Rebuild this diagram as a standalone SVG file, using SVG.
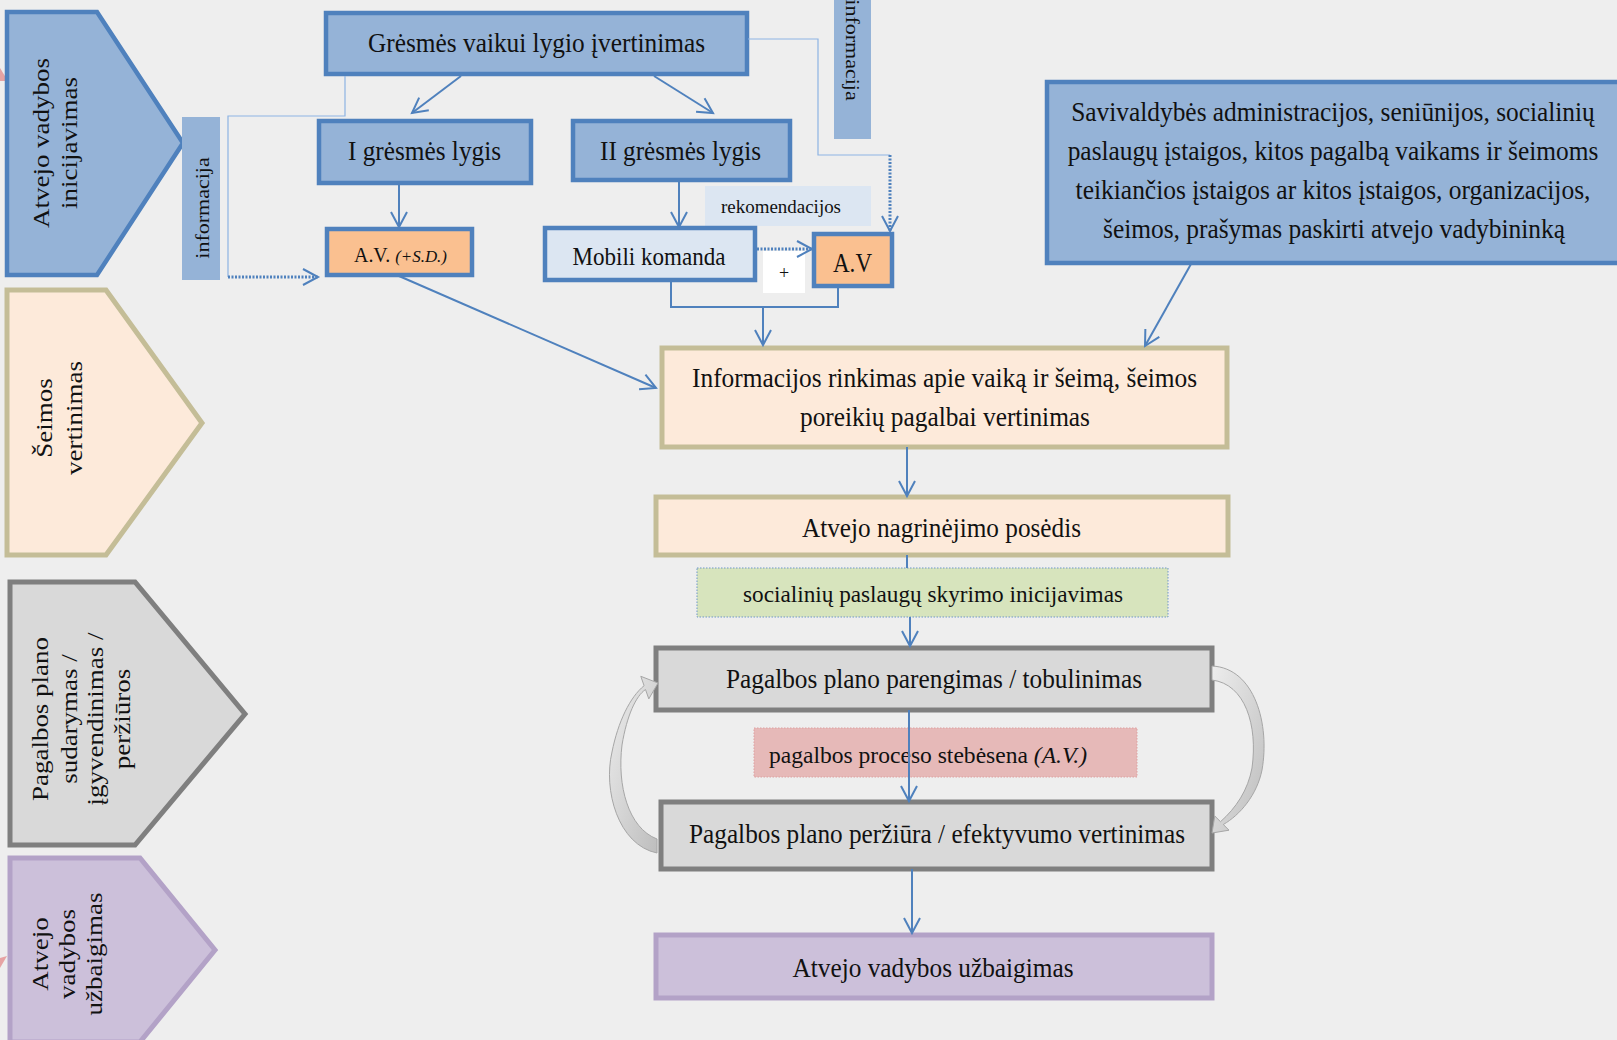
<svg xmlns="http://www.w3.org/2000/svg" width="1617" height="1040" viewBox="0 0 1617 1040">
<style>
text{font-family:"Liberation Serif","Times New Roman",serif;fill:#111}
.c{text-anchor:middle}
.f28{font-size:28px}
.rot{font-size:27px;text-anchor:middle}
.blue{fill:#95B3D7;stroke:#4F81BD;stroke-width:4.5}
.lb{fill:#DCE6F2;stroke:#4F81BD;stroke-width:4.5}
.or{fill:#FAC090;stroke:#4F81BD;stroke-width:4.5}
.peach{fill:#FDEADA;stroke:#C4BD97;stroke-width:5}
.gray{fill:#D9D9D9;stroke:#7F7F7F;stroke-width:5}
.purp{fill:#CCC0DA;stroke:#B3A2C7;stroke-width:5}
.con{fill:none;stroke:#4F81BD;stroke-width:2}
.thin{fill:none;stroke:#8EB4E3;stroke-width:1.2}
.dot{fill:none;stroke:#4F81BD;stroke-width:3;stroke-dasharray:2 1.5}
.curve{fill:url(#cg);stroke:#A6A6A6;stroke-width:1}
</style>
<defs>
<marker id="ah" markerUnits="userSpaceOnUse" markerWidth="20" markerHeight="20" viewBox="-17 -10 20 20" refX="0" refY="0" orient="auto">
<path d="M-15,-8 L0,0 L-15,8" fill="none" stroke="#4F81BD" stroke-width="2"/>
</marker>
<linearGradient id="cg" x1="0" y1="0" x2="1" y2="1">
<stop offset="0" stop-color="#EDEDED"/>
<stop offset="1" stop-color="#BDBDBD"/>
</linearGradient>
</defs>
<rect x="0" y="0" width="1617" height="1040" fill="#EEEEEE"/>
<polygon points="0,68 8,81 0,81" fill="#E6A3A3"/>
<polygon points="0,958 7,956 0,968" fill="#E6A3A3"/>

<g id="phase1">
<polygon class="blue" points="7,12 97,12 183,143 97,275 7,275"/>
<text class="rot" transform="translate(49,143) scale(0.88,1) rotate(-90)">Atvejo vadybos</text>
<text class="rot" transform="translate(77,143) scale(0.88,1) rotate(-90)">inicijavimas</text>
</g>
<g id="phase2">
<polygon class="peach" points="7,290 106,290 202,423 106,555 7,555"/>
<text class="rot" transform="translate(52,418) scale(0.88,1) rotate(-90)">Šeimos</text>
<text class="rot" transform="translate(82,418) scale(0.88,1) rotate(-90)">vertinimas</text>
</g>
<g id="phase3">
<polygon class="gray" points="10,582 135,582 245,714 135,845 10,845"/>
<text class="rot" transform="translate(48,719) scale(0.88,1) rotate(-90)">Pagalbos plano</text>
<text class="rot" transform="translate(77,719) scale(0.88,1) rotate(-90)">sudarymas /</text>
<text class="rot" transform="translate(103,719) scale(0.88,1) rotate(-90)">įgyvendinimas /</text>
<text class="rot" transform="translate(130,719) scale(0.88,1) rotate(-90)">peržiūros</text>
</g>
<g id="phase4">
<polygon class="purp" points="10,858 140,858 215,950 140,1042 10,1042"/>
<text class="rot" transform="translate(48,954) scale(0.88,1) rotate(-90)">Atvejo</text>
<text class="rot" transform="translate(75,954) scale(0.88,1) rotate(-90)">vadybos</text>
<text class="rot" transform="translate(102,954) scale(0.88,1) rotate(-90)">užbaigimas</text>
</g>

<g id="info-left">
<rect x="182" y="117" width="38" height="163" fill="#95B3D7"/>
<text class="c" font-size="22" transform="translate(209,208) scale(0.88,1) rotate(-90)">informacija</text>
</g>
<g id="info-right">
<rect x="834" y="-2" width="37" height="141" fill="#95B3D7"/>
<text class="c" font-size="22" transform="translate(846,50) scale(0.88,1) rotate(90)">informacija</text>
</g>

<g id="gresmes">
<rect class="blue" x="326" y="13" width="421" height="61"/>
<text class="c f28" x="536.5" y="52" textLength="337" lengthAdjust="spacingAndGlyphs">Grėsmės vaikui lygio įvertinimas</text>
</g>
<g id="lygis1">
<rect class="blue" x="319" y="121" width="212" height="62"/>
<text class="c f28" x="424.5" y="160" textLength="153" lengthAdjust="spacingAndGlyphs">I grėsmės lygis</text>
</g>
<g id="lygis2">
<rect class="blue" x="573" y="121" width="217" height="59"/>
<text class="c f28" x="680.5" y="160" textLength="161" lengthAdjust="spacingAndGlyphs">II grėsmės lygis</text>
</g>
<g id="av-sd">
<rect class="or" x="327" y="229" width="145" height="46"/>
<text x="354" y="262" font-size="20" textLength="93" lengthAdjust="spacingAndGlyphs">A.V. <tspan font-style="italic" font-size="17">(+S.D.)</tspan></text>
</g>
<g id="rekomendacijos">
<rect x="705" y="186" width="166" height="40" fill="#DCE6F2"/>
<text class="c" x="781" y="213" font-size="19" textLength="120" lengthAdjust="spacingAndGlyphs">rekomendacijos</text>
</g>
<g id="mobili">
<rect class="lb" x="545" y="228" width="210" height="52"/>
<text class="c" x="649" y="265" font-size="25" textLength="153" lengthAdjust="spacingAndGlyphs">Mobili komanda</text>
</g>
<g id="plus">
<rect x="763" y="251" width="42" height="42" fill="#FFFFFF"/>
<text class="c" x="784" y="279" font-size="18">+</text>
</g>
<g id="av">
<rect class="or" x="814" y="234" width="78" height="52"/>
<text class="c" x="852.5" y="272" font-size="27" textLength="39" lengthAdjust="spacingAndGlyphs">A.V</text>
</g>
<g id="savivaldybes">
<rect class="blue" x="1047" y="82" width="580" height="181"/>
<text class="c f28" transform="translate(1333,121) scale(0.88,1)" textLength="595" lengthAdjust="spacingAndGlyphs">Savivaldybės administracijos, seniūnijos, socialinių</text>
<text class="c f28" transform="translate(1333,160) scale(0.88,1)" textLength="603" lengthAdjust="spacingAndGlyphs">paslaugų įstaigos, kitos pagalbą vaikams ir šeimoms</text>
<text class="c f28" transform="translate(1333,199) scale(0.88,1)" textLength="585" lengthAdjust="spacingAndGlyphs">teikiančios įstaigos ar kitos įstaigos, organizacijos,</text>
<text class="c f28" transform="translate(1334,238) scale(0.88,1)" textLength="525" lengthAdjust="spacingAndGlyphs">šeimos, prašymas paskirti atvejo vadybininką</text>
</g>
<g id="informacijos-rinkimas">
<rect class="peach" x="662" y="348" width="565" height="99"/>
<text class="c f28" x="944.5" y="387" textLength="505" lengthAdjust="spacingAndGlyphs">Informacijos rinkimas apie vaiką ir šeimą, šeimos</text>
<text class="c f28" x="945" y="426" textLength="290" lengthAdjust="spacingAndGlyphs">poreikių pagalbai vertinimas</text>
</g>
<g id="posedis">
<rect class="peach" x="656" y="497" width="572" height="58"/>
<text class="c f28" x="941.5" y="537" textLength="279" lengthAdjust="spacingAndGlyphs">Atvejo nagrinėjimo posėdis</text>
</g>
<g id="socialiniu">
<rect x="697" y="568" width="471" height="49" fill="#D7E4BD" stroke="#6F97C8" stroke-width="1" stroke-dasharray="1.5 1.5"/>
<text class="c" x="933" y="602" font-size="24" textLength="380" lengthAdjust="spacingAndGlyphs">socialinių paslaugų skyrimo inicijavimas</text>
</g>
<g id="parengimas">
<rect class="gray" x="656" y="648" width="556" height="62"/>
<text class="c f28" x="934" y="688" textLength="416" lengthAdjust="spacingAndGlyphs">Pagalbos plano parengimas / tobulinimas</text>
</g>
<g id="stebesena">
<rect x="754" y="728" width="383" height="49" fill="#E6B9B8" stroke="#DDA0A0" stroke-width="1" stroke-dasharray="1.5 1.5"/>
<text x="769" y="763" font-size="24" textLength="318" lengthAdjust="spacingAndGlyphs">pagalbos proceso stebėsena <tspan font-style="italic">(A.V.)</tspan></text>
</g>
<g id="perziura">
<rect class="gray" x="661" y="802" width="551" height="67"/>
<text class="c f28" x="937" y="843" textLength="496" lengthAdjust="spacingAndGlyphs">Pagalbos plano peržiūra / efektyvumo vertinimas</text>
</g>
<g id="uzbaigimas">
<rect class="purp" x="656" y="935" width="556" height="63"/>
<text class="c f28" x="933" y="977" textLength="281" lengthAdjust="spacingAndGlyphs">Atvejo vadybos užbaigimas</text>
</g>

<g id="connectors">
<path class="thin" d="M345,76 V116 H228 V277"/>
<path class="dot" d="M228,277 H318" marker-end="url(#ah)"/>
<path class="thin" d="M748,39 H818 V155 H890 "/>
<path class="dot" d="M890,155 V231" marker-end="url(#ah)"/>
<path class="dot" d="M757,249 H812" marker-end="url(#ah)"/>
<path class="con" d="M461,76 L412,113" marker-end="url(#ah)"/>
<path class="con" d="M654,76 L713,113" marker-end="url(#ah)"/>
<path class="con" d="M399,185 V227" marker-end="url(#ah)"/>
<path class="con" d="M679,182 V227" marker-end="url(#ah)"/>
<path class="con" d="M399,276 L656,388" marker-end="url(#ah)"/>
<path class="con" d="M1191,264 L1145,346" marker-end="url(#ah)"/>
<path class="con" d="M671,281 V307 H838 V287"/>
<path class="con" d="M763,307 V345" marker-end="url(#ah)"/>
<path class="con" d="M907,447 V496" marker-end="url(#ah)"/>
<path class="con" d="M907,555 V568"/>
<path class="con" d="M910,617 V646" marker-end="url(#ah)"/>
<path class="con" d="M909,710 V801" marker-end="url(#ah)"/>
<path class="con" d="M912,869 V933" marker-end="url(#ah)"/>
<path class="curve" d="M657,853 C618,845 603,790 612,752 C618,722 630,697 644.1,685.7 L640.8,676.3 L658,683 L648.8,698.9 L645.5,689.5 C636,696 627,715 622,745 C617,785 628,828 657,839 Z"/>
<path class="curve" d="M1212,666 C1255,668 1270,725 1262,770 C1257,795 1240,815 1223.3,824.5 L1229,830.2 L1212,833 L1214.8,816 L1220.5,821.7 C1236,808 1248,790 1252,768 C1258,725 1245,684 1212,680 Z"/>
</g>
</svg>
